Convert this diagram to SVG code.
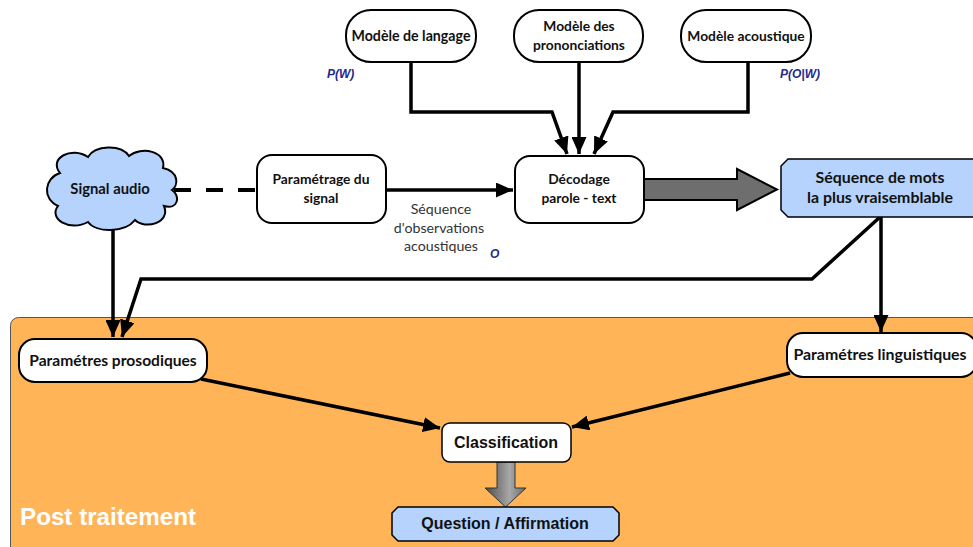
<svg xmlns="http://www.w3.org/2000/svg" width="973" height="547" viewBox="0 0 973 547">
<style>
.node{fill:#fff;stroke:#000;stroke-width:2}
.blue{fill:#b5d3fc;stroke:#000;stroke-width:1.5}
.t{font-family:Lato,'Noto Sans',sans-serif;font-weight:bold;font-size:13.8px;fill:#111;text-anchor:middle}
.b{font-size:15.9px}
.h{font-family:'Liberation Sans',Arial,sans-serif;font-weight:bold;font-size:16px;fill:#111;text-anchor:middle}
.lbl{font-family:Lato,'Noto Sans',sans-serif;font-size:14.2px;fill:#333;text-anchor:middle}
.var{font-family:'Liberation Sans',Arial,sans-serif;font-weight:bold;font-style:italic;font-size:12px;fill:#1f2a8c}
.c{fill:none;stroke:#000;stroke-width:3.5;marker-end:url(#ah)}
</style>
<defs>
<marker id="ah" markerUnits="userSpaceOnUse" markerWidth="18" markerHeight="15" refX="17" refY="7.5" orient="auto">
<path d="M0,0 L17,7.5 L0,15 z" fill="#000"/>
</marker>
<linearGradient id="g" x1="0" y1="0" x2="1" y2="0">
<stop offset="0" stop-color="#4a4a4a"/>
<stop offset="0.6" stop-color="#a8a8a8"/>
<stop offset="1" stop-color="#6a6a6a"/>
</linearGradient>
</defs>
<rect x="0" y="0" width="973" height="547" fill="#fff"/>
<g id="post-traitement">
<rect x="10.5" y="317.5" width="980" height="260" rx="8" fill="#ffb557" stroke="#555" stroke-width="1"/>
<text x="20" y="525" font-family="'Liberation Sans',Arial,sans-serif" font-weight="bold" font-size="24.2" fill="#fff">Post traitement</text>
</g>
<g id="connectors">
<path class="c" d="M411,62 V112 H552 L567,154"/>
<path class="c" d="M579,62 V154"/>
<path class="c" d="M748,62 V112 H613 L594,154"/>
<path d="M174,190 H257" fill="none" stroke="#000" stroke-width="4" stroke-dasharray="17,15"/>
<path class="c" d="M386,190 H513"/>
<path d="M644,179 H737 V169 L777,189.5 L737,210 V200 H644 Z" fill="#6e6e6e" stroke="#000" stroke-width="2"/>
<path class="c" d="M113,229 V337"/>
<path class="c" d="M880,217 L812,279 H141 L122,337"/>
<path class="c" d="M881,217 V332"/>
<path class="c" d="M201,379 L440,428"/>
<path class="c" d="M790,373 L572,427"/>
<path d="M497,462 H515 V488 H526 L505.5,507 L485,488 H497 Z" fill="url(#g)" stroke="#333" stroke-width="1"/>
</g>
<g id="modele-langage">
<rect class="node" x="346" y="10" width="130" height="52" rx="25"/>
<text class="t" x="411" y="41" style="font-size:14.2px">Modèle de langage</text>
</g>
<text class="var" x="327" y="78">P(W)</text>
<g id="modele-prononciations">
<rect class="node" x="514" y="10" width="129" height="52" rx="25"/>
<text class="t" x="579" y="31">Modèle des</text>
<text class="t" x="579" y="50">prononciations</text>
</g>
<g id="modele-acoustique">
<rect class="node" x="681" y="10" width="130" height="52" rx="25"/>
<text class="t" x="746" y="41">Modèle acoustique</text>
</g>
<text class="var" x="780" y="78">P(O|W)</text>
<g id="signal-audio">
<path d="M60,173 C48,158 72,146 88,157 C95,145 121,144 129,156 C141,146 167,151 163,168 C180,172 178,186 172,190 C181,196 178,210 164,206 C171,223 145,230 135,220 C125,233 96,233 88,222 C70,232 48,219 58,206 C42,199 44,178 60,173 Z" fill="#b5d3fc" stroke="#000" stroke-width="2"/>
<text class="t" x="110" y="194" style="font-size:14.8px">Signal audio</text>
</g>
<g id="parametrage">
<rect class="node" x="257" y="155" width="129" height="68" rx="15"/>
<text class="t" x="321" y="184">Paramétrage du</text>
<text class="t" x="321" y="203">signal</text>
</g>
<g id="label-sequence-obs">
<text class="lbl" x="441" y="214">Séquence</text>
<text class="lbl" x="439" y="233">d'observations</text>
<text class="lbl" x="441" y="251">acoustiques</text>
<text class="var" x="490" y="258">O</text>
</g>
<g id="decodage">
<rect class="node" x="515" y="156" width="129" height="67" rx="15"/>
<text class="t" x="579" y="184">Décodage</text>
<text class="t" x="579" y="203">parole - text</text>
</g>
<g id="sequence-mots">
<path class="blue" d="M788,159 H979 V217 H788 L781,210 V166 Z"/>
<text class="t b" x="880" y="183">Séquence de mots</text>
<text class="t b" x="880" y="203">la plus vraisemblable</text>
</g>
<g id="parametres-prosodiques">
<rect class="node" x="19" y="339" width="188" height="43" rx="16"/>
<text class="t" x="113" y="366" style="font-size:15.6px">Paramétres prosodiques</text>
</g>
<g id="parametres-linguistiques">
<rect class="node" x="787" y="333" width="190" height="44" rx="16"/>
<text class="t b" x="880" y="360">Paramétres linguistiques</text>
</g>
<g id="classification">
<rect class="node" x="442" y="423" width="129" height="39" rx="8" style="stroke-width:1.5"/>
<text class="h" x="506" y="448">Classification</text>
</g>
<g id="question-affirmation">
<path class="blue" d="M398,507 H613 L619,513 V535 L613,541 H398 L392,535 V513 Z"/>
<text class="h" x="505" y="529">Question / Affirmation</text>
</g>
</svg>
